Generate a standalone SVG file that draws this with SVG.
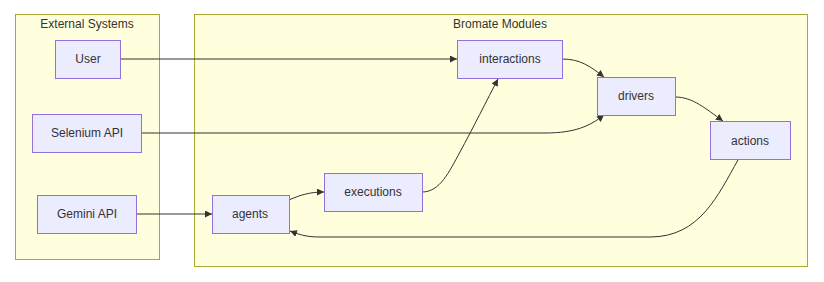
<svg xmlns="http://www.w3.org/2000/svg" width="824" height="282" viewBox="0 0 824 282">
<style>
.cluster{fill:#ffffde;stroke:#aaaa33;stroke-width:1}
.node rect{fill:#ECECFF;stroke:#9370DB;stroke-width:1}
text{font-family:"Liberation Sans",Arial,sans-serif;font-size:12px;fill:#333333;text-anchor:middle}
.edge{fill:none;stroke:#333333;stroke-width:1;marker-end:url(#arrow)}
</style>
<defs>
<marker id="arrow" viewBox="0 0 10 10" refX="10" refY="5" markerUnits="userSpaceOnUse" markerWidth="7" markerHeight="7" orient="auto">
<path d="M0,0 L10,5 L0,10 z" fill="#333333"/>
</marker>
</defs>
<rect width="824" height="282" fill="#ffffff"/>
<g id="cluster-external">
<rect class="cluster" x="15.5" y="14.5" width="144" height="245"/>
<text x="87" y="28">External Systems</text>
</g>
<g id="cluster-bromate">
<rect class="cluster" x="194.5" y="14.5" width="613" height="252"/>
<text x="500" y="28">Bromate Modules</text>
</g>
<g id="connectors">
<path class="edge" d="M120,59 L457,59"/>
<path class="edge" d="M141,133 L545,133 C575,133 590,126 604,115"/>
<path class="edge" d="M136,214 L212,214"/>
<path class="edge" d="M289,200 C300,195 310,192 324,192"/>
<path class="edge" d="M422,192 C440,192 449,172 460,152 C472,130 488,98 498,79"/>
<path class="edge" d="M562,59 C580,59 590,66 604,77"/>
<path class="edge" d="M675,97 C693,97 706,109 723,121"/>
<path class="edge" d="M738,160 C718,195 700,237 650,237 L320,237 C305,237 298,234 290,231"/>
</g>
<g id="node-user" class="node">
<rect x="55.5" y="40.5" width="65" height="38"/>
<text x="88" y="63">User</text>
</g>
<g id="node-selenium" class="node">
<rect x="32.5" y="114.5" width="109" height="38"/>
<text x="87" y="137">Selenium API</text>
</g>
<g id="node-gemini" class="node">
<rect x="37.5" y="195.5" width="99" height="38"/>
<text x="87" y="218">Gemini API</text>
</g>
<g id="node-interactions" class="node">
<rect x="457.5" y="40.5" width="105" height="38"/>
<text x="510" y="63">interactions</text>
</g>
<g id="node-drivers" class="node">
<rect x="597.5" y="77.5" width="78" height="38"/>
<text x="636" y="100">drivers</text>
</g>
<g id="node-actions" class="node">
<rect x="710.5" y="121.5" width="80" height="38"/>
<text x="750" y="145">actions</text>
</g>
<g id="node-executions" class="node">
<rect x="324.5" y="173.5" width="98" height="38"/>
<text x="373" y="196">executions</text>
</g>
<g id="node-agents" class="node">
<rect x="212.5" y="195.5" width="77" height="38"/>
<text x="250" y="218">agents</text>
</g>
</svg>
